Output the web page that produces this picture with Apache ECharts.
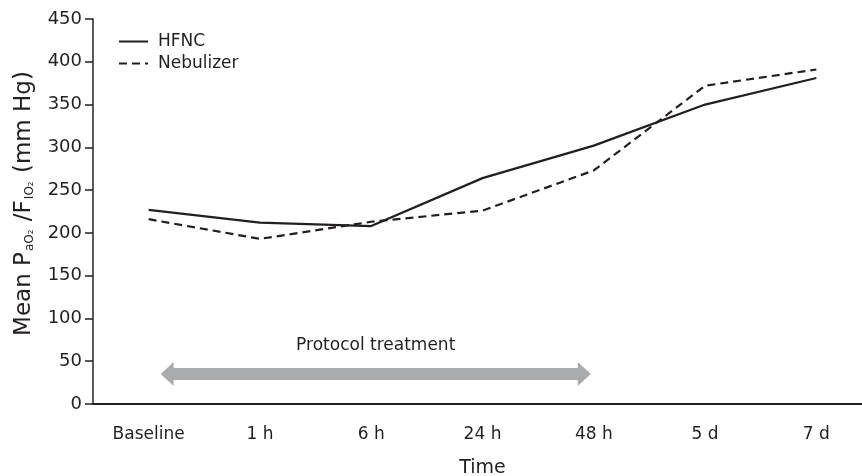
<!DOCTYPE html>
<html>
<head>
<meta charset="utf-8">
<script src="https://cdn.jsdelivr.net/npm/echarts@6/dist/echarts.min.js"></script>
<style>
    html, body { margin: 0; padding: 0; background: #ffffff; }
    #chart { width: 862px; height: 476px; }
</style>
</head>
<body>
<div id="chart"></div>
<script>
    // 数据
    var categories = ['Baseline', '1 h', '6 h', '24 h', '48 h', '5 d', '7 d'];
    var hfnc = [227, 212, 208, 264, 302, 350, 381];
    var nebulizer = [216, 193, 213, 226, 273, 372, 391];
    var yTicks = { min: 0, max: 450, interval: 50 };
    var protocolLabel = 'Protocol treatment';
    var protocolRange = [0, 4];   // Baseline -> 48 h
    var protocolLevel = 35;

    var ink = '#231f20';
    var font = 'DejaVu Sans, Liberation Sans, sans-serif';

    var myChart = echarts.init(document.getElementById('chart'));

    myChart.setOption({
        animation: false,
        grid: { left: 93, top: 19, bottom: 72, width: 779, outerBoundsMode: 'none', containLabel: false },
        legend: {
            orient: 'vertical',
            left: 118,
            top: 33,
            padding: 0,
            itemWidth: 29,
            itemHeight: 2,
            itemGap: 5,
            itemStyle: { color: 'rgba(0,0,0,0)', borderWidth: 0 },
            textStyle: { fontFamily: font, fontSize: 17, color: ink, padding: [0, 0, 0, 5] },
            data: ['HFNC', 'Nebulizer']
        },
        xAxis: {
            type: 'category',
            data: categories,
            boundaryGap: true,
            name: 'Time',
            nameLocation: 'middle',
            nameGap: 55,
            nameTextStyle: { fontFamily: font, fontSize: 19, color: ink },
            axisLine: { lineStyle: { color: ink, width: 2 } },
            axisTick: { alignWithLabel: true, length: 9, lineStyle: { color: ink, width: 1.5 } },
            axisLabel: { fontFamily: font, fontSize: 17, color: ink, margin: 22 }
        },
        yAxis: {
            type: 'value',
            min: yTicks.min,
            max: yTicks.max,
            interval: yTicks.interval,
            name: '{t|Mean P}{s|aO₂}{t| /F}{s|IO₂}{t| (mm Hg)}',
            nameLocation: 'middle',
            nameRotate: 90,
            nameGap: 57,
            nameTextStyle: {
                padding: [0, 0, 0, 16],
                rich: {
                    t: { fontFamily: font, fontSize: 23, color: ink },
                    s: { fontFamily: font, fontSize: 12, color: ink, padding: [12, 1, 0, 1] }
                }
            },
            splitLine: { show: false },
            axisLine: { show: true, lineStyle: { color: ink, width: 1.5 } },
            axisTick: { show: true, length: 8, lineStyle: { color: ink, width: 1.5 } },
            axisLabel: { fontFamily: font, fontSize: 18, color: ink, margin: 11 }
        },
        series: [
            {
                name: 'HFNC',
                type: 'line',
                data: hfnc,
                symbol: 'none',
                lineStyle: { color: ink, width: 2.2, type: 'solid' },
                itemStyle: { color: ink }
            },
            {
                name: 'Nebulizer',
                type: 'line',
                data: nebulizer,
                symbol: 'none',
                lineStyle: { color: ink, width: 2.2, type: [8, 5] },
                itemStyle: { color: ink }
            }
        ]
    });

    // 灰色双向箭头 + 文字
    function drawArrow() {
        var p0 = myChart.convertToPixel({ gridIndex: 0 }, [protocolRange[0], protocolLevel]);
        var p1 = myChart.convertToPixel({ gridIndex: 0 }, [protocolRange[1], protocolLevel]);
        var x0 = p0[0] + 12, x1 = p1[0] - 3, y = p0[1];
        var head = 13, half = 6, hh = 12;
        myChart.setOption({
            graphic: [
                {
                    type: 'polygon',
                    shape: {
                        points: [
                            [x0, y], [x0 + head, y - hh], [x0 + head, y - half],
                            [x1 - head, y - half], [x1 - head, y - hh], [x1, y],
                            [x1 - head, y + hh], [x1 - head, y + half],
                            [x0 + head, y + half], [x0 + head, y + hh]
                        ]
                    },
                    style: { fill: '#aaabad' }
                },
                {
                    type: 'text',
                    x: (x0 + x1) / 2,
                    y: y - 28,
                    style: {
                        text: protocolLabel,
                        fontFamily: font,
                        fontSize: 17,
                        fill: ink,
                        textAlign: 'center',
                        textVerticalAlign: 'middle'
                    }
                }
            ]
        });
    }
    drawArrow();
</script>
</body>
</html>
